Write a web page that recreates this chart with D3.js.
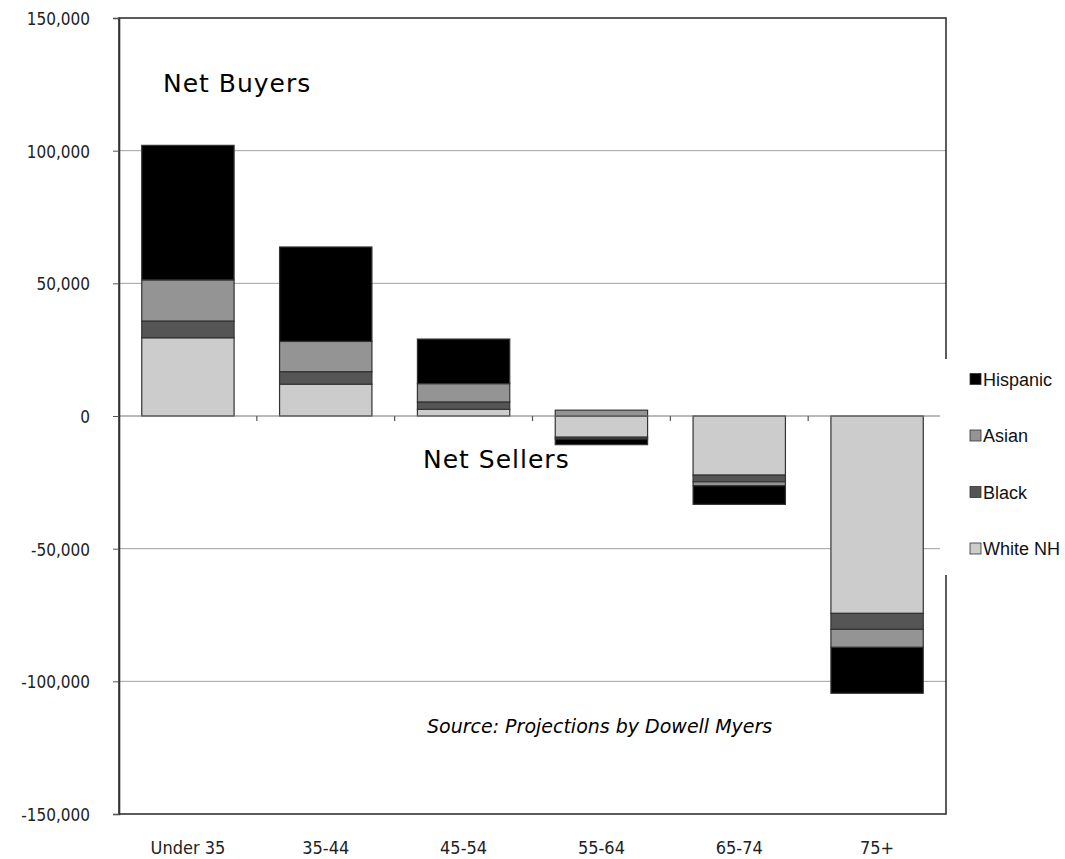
<!DOCTYPE html>
<html><head><meta charset="utf-8">
<script src="https://cdn.jsdelivr.net/npm/d3@7"></script>
<style>body{margin:0;background:#fff}</style>
</head><body>
<svg id="chart" width="1065" height="859"></svg>
<script>
const categories = ["Under 35","35-44","45-54","55-64","65-74","75+"];
const seriesNames = ["White NH","Black","Asian","Hispanic"];
const whiteNH  = [29500, 12000, 2500, -8000, -22300, -74400];
const black    = [6300, 4700, 2800, -700, -2500, -6000];
const asian    = [15500, 11400, 6900, 2200, -1500, -6800];
const hispanic = [50700, 35600, 16800, -2100, -7000, -17300];
const yTicks = [-150000,-100000,-50000,0,50000,100000,150000];
const colors = {"White NH":"#cccccc","Black":"#555555","Asian":"#949494","Hispanic":"#000000"};
const legendOrder = ["Hispanic","Asian","Black","White NH"];

const svg = d3.select("#chart");
const m = {left:119, right:946, top:18, bottom:814};
const x = d3.scaleBand().domain(categories).range([m.left, m.right]).paddingInner(0.33).paddingOuter(0.165);
const xb = d3.scaleBand().domain(categories).range([m.left, m.right]);
const y = d3.scaleLinear().domain([-150000,150000]).range([m.bottom, m.top]);
const condensed = "'DejaVu Sans Condensed', 'DejaVu Sans', sans-serif";

// gridlines
svg.append("g").selectAll("line").data(yTicks.filter(d=>d!==0 && Math.abs(d)!==150000)).join("line")
  .attr("x1", m.left).attr("x2", m.right).attr("y1", d=>y(d)).attr("y2", d=>y(d))
  .attr("stroke","#a0a0a0").attr("stroke-width",1);

// stacked data
const values = {"White NH":whiteNH,"Black":black,"Asian":asian,"Hispanic":hispanic};
const rects = [];
categories.forEach((c,i)=>{
  let pos=0, neg=0;
  seriesNames.forEach(s=>{
    const v = values[s][i];
    let y0,y1;
    if(v>=0){y0=pos;y1=pos+v;pos=y1;}else{y0=neg;y1=neg+v;neg=y1;}
    rects.push({c,s,y0,y1});
  });
});
svg.append("g").selectAll("rect").data(rects).join("rect")
  .attr("x", d=>x(d.c)).attr("width", x.bandwidth())
  .attr("y", d=>y(Math.max(d.y0,d.y1))).attr("height", d=>Math.abs(y(d.y0)-y(d.y1)))
  .attr("fill", d=>colors[d.s]).attr("stroke","#333").attr("stroke-width",1.2);

// zero axis
svg.append("line").attr("x1",m.left).attr("x2",m.right).attr("y1",y(0)).attr("y2",y(0))
  .attr("stroke","#777").attr("stroke-width",1.2);
svg.append("g").selectAll("line").data(categories.slice(1)).join("line")
  .attr("x1",d=>xb(d)).attr("x2",d=>xb(d)).attr("y1",y(0)).attr("y2",y(0)+5)
  .attr("stroke","#555").attr("stroke-width",1.2);

// frame
svg.append("rect").attr("x",m.left).attr("y",m.top).attr("width",m.right-m.left).attr("height",m.bottom-m.top)
  .attr("fill","none").attr("stroke","#333").attr("stroke-width",1.6);

// y axis
const yAxis = d3.axisLeft(y).tickValues(yTicks).tickSize(6).tickFormat(d=>d3.format(",")(d).replace("−","-"));
const ya = svg.append("g").attr("transform",`translate(${m.left},0)`).call(yAxis);
ya.select(".domain").attr("stroke","#333").attr("stroke-width",1.6);
ya.selectAll(".tick line").attr("stroke","#555");
ya.selectAll(".tick text").attr("x",-29).attr("dy","0.38em").attr("font-family",condensed)
  .attr("font-stretch","condensed").attr("font-size",17).attr("fill","#222");

// x axis labels
const xa = svg.append("g").attr("transform",`translate(0,${m.bottom})`).call(d3.axisBottom(xb).tickSize(0));
xa.select(".domain").remove();
xa.selectAll(".tick text").attr("y",40).attr("dy",0).attr("font-family",condensed)
  .attr("font-stretch","condensed").attr("font-size",18).attr("fill","#222");

// legend box
svg.append("rect").attr("x",940).attr("y",359).attr("width",125).attr("height",216).attr("fill","#fff");
const lg = svg.append("g").selectAll("g").data(legendOrder).join("g")
  .attr("transform",(d,i)=>`translate(970,${379+i*56.5})`);
lg.append("rect").attr("x",0).attr("y",-5.5).attr("width",11).attr("height",11)
  .attr("fill",d=>colors[d]).attr("stroke","#333").attr("stroke-width",0.8);
lg.append("text").attr("x",13).attr("y",6.5).text(d=>d)
  .attr("font-family","'Liberation Sans', Arial, sans-serif").attr("font-size",18).attr("fill","#111");

// annotations
svg.append("text").attr("x",163).attr("y",92).text("Net Buyers")
  .attr("font-family","'DejaVu Sans', Verdana, sans-serif").attr("font-size",25).attr("letter-spacing","1").attr("fill","#000");
svg.append("text").attr("x",423).attr("y",468).text("Net Sellers")
  .attr("font-family","'DejaVu Sans', Verdana, sans-serif").attr("font-size",25).attr("letter-spacing","1").attr("fill","#000");
svg.append("text").attr("x",427).attr("y",733).text("Source: Projections by Dowell Myers")
  .attr("font-family","'DejaVu Sans', Verdana, sans-serif").attr("font-size",19).attr("font-style","italic")
  .attr("fill","#000");
</script>
</body></html>
